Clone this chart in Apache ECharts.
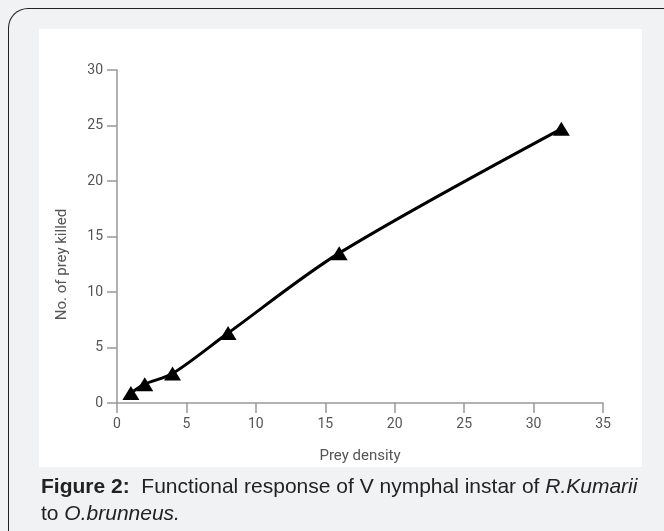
<!DOCTYPE html>
<html>
<head>
<meta charset="utf-8">
<script src="https://cdn.jsdelivr.net/npm/echarts@6/dist/echarts.min.js"></script>
<style>
  html, body { margin: 0; padding: 0; }
  body { width: 664px; height: 531px; background: #f1f2f4; position: relative; overflow: hidden; }
  .frame { position: absolute; left: 8px; top: 8px; width: 700px; height: 600px;
    border-left: 1.5px solid #222; border-top: 1.5px solid #222; border-top-left-radius: 20px; }
  .panel { position: absolute; left: 39px; top: 29px; width: 603px; height: 438px; background: #fff; }
  #chart { position: absolute; left: 0; top: 0; width: 664px; height: 531px; }
  .caption { position: absolute; left: 41px; top: 472px; width: 623px; white-space: nowrap;
    font-family: "Liberation Sans", Arial, sans-serif; font-size: 21px; line-height: 27px; color: #222; }
</style>
</head>
<body>
<div class="frame"></div>
<div class="panel"></div>
<div id="chart"></div>
<div class="caption"><b>Figure 2:</b>&nbsp; Functional response of V nymphal instar of <i>R.Kumarii</i><br>to <i>O.brunneus.</i></div>
<script>
  var preyDensity = [1, 2, 4, 8, 16, 32]
  var preyKilled = [0.9, 1.7, 2.65, 6.3, 13.5, 24.7]
  var xTicks = [0, 5, 10, 15, 20, 25, 30, 35]
  var yTicks = [0, 5, 10, 15, 20, 25, 30]

  var myChart = echarts.init(document.getElementById('chart'))
  var labelFont = {fontFamily: 'Roboto', fontSize: 14, color: '#555'}
  var nameFont = {fontFamily: 'Roboto', fontSize: 15, color: '#555'}
  var option = {
    animation: false,
    grid: {left: 117, right: 61, top: 70, bottom: 128},
    xAxis: {
      type: 'value',
      min: 0,
      max: 35,
      interval: 5,
      name: 'Prey density',
      nameLocation: 'middle',
      nameGap: 46,
      nameTextStyle: nameFont,
      axisLine: {lineStyle: {color: '#999', width: 1.5}},
      axisTick: {show: true, length: 10, lineStyle: {color: '#999', width: 1.5}, customValues: xTicks},
      axisLabel: Object.assign({margin: 14, customValues: xTicks}, labelFont),
      splitLine: {show: false}
    },
    yAxis: {
      type: 'value',
      min: 0,
      max: 30,
      interval: 5,
      name: 'No. of prey killed',
      nameLocation: 'middle',
      nameGap: 47,
      nameTextStyle: Object.assign({padding: [0, 56, 0, 0]}, nameFont),
      axisLine: {show: true, lineStyle: {color: '#999', width: 1.5}},
      axisTick: {show: true, length: 10, lineStyle: {color: '#999', width: 1.5}, customValues: yTicks},
      axisLabel: Object.assign({margin: 14, customValues: yTicks}, labelFont),
      splitLine: {show: false}
    },
    series: [
      {
        type: 'line',
        data: preyDensity.map(function (x, i) { return [x, preyKilled[i]] }),
        smooth: 0.3,
        symbol: 'triangle',
        symbolSize: [17, 14],
        itemStyle: {color: '#000'},
        lineStyle: {color: '#000', width: 3}
      }
    ]
  }
  myChart.setOption(option)
</script>
</body>
</html>
